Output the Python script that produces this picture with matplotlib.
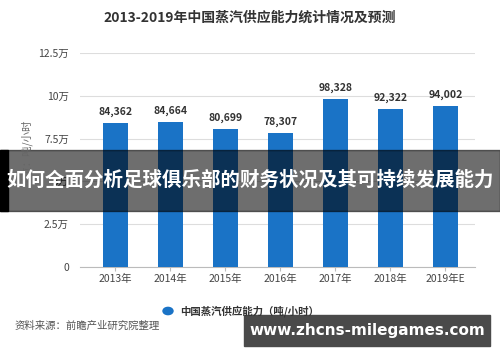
import matplotlib
matplotlib.use("Agg")
import matplotlib.pyplot as plt
import matplotlib.patches as mpatches

plt.rcParams['font.family'] = ['Noto Sans CJK SC', 'DejaVu Sans']

# dados
anos = ["2013年", "2014年", "2015年", "2016年", "2017年", "2018年", "2019年E"]
capacidade = [84362, 84664, 80699, 78307, 98328, 92322, 94002]
rotulos = ["84,362", "84,664", "80,699", "78,307", "98,328", "92,322", "94,002"]
yticks = [0, 25000, 50000, 75000, 100000, 125000]
ytick_labels = ["0", "2.5万", "5万", "7.5万", "10万", "12.5万"]

W, H = 500, 362
fig = plt.figure(figsize=(5, 3.62), dpi=100)
fig.patch.set_facecolor("white")

# eixo principal (pixels -> fração)
ax = fig.add_axes([80 / W, 1 - 267 / H, 395 / W, 214 / H])
x = list(range(len(anos)))
ax.bar(x, capacidade, width=0.45, color="#1a73c6", zorder=3)
for xi, v, s in zip(x, capacidade, rotulos):
    ax.text(xi, v + 3500, s, ha="center", va="bottom", fontsize=7.5,
            fontweight="bold", color="#333333", zorder=4)

ax.set_xlim(-0.645, 6.54)
ax.set_ylim(0, 125000)
ax.set_yticks(yticks)
ax.set_yticklabels(ytick_labels, fontsize=7.5, color="#444444")
ax.set_xticks(x)
ax.set_xticklabels(anos, fontsize=7.5, color="#444444")
ax.grid(axis="y", color="#dddddd", linewidth=0.8, zorder=0)
for lado in ["top", "right", "left"]:
    ax.spines[lado].set_visible(False)
ax.spines["bottom"].set_color("#bbbbbb")
ax.tick_params(axis="y", length=0, pad=8)
ax.tick_params(axis="x", length=3, color="#bbbbbb", pad=2)

# titulo e textos
fig.text(250 / W, 1 - 18 / H, "2013-2019年中国蒸汽供应能力统计情况及预测",
         ha="center", va="center", fontsize=10, fontweight="bold", color="#333333")
fig.text(27 / W, 1 - 153 / H, "单位：吨/小时", rotation=90, ha="center", va="center",
         fontsize=7.5, color="#666666")

# legenda
fig.patches.append(mpatches.Circle((168 / W, 1 - 311 / H), 5 / W, color="#1a73c6",
                                   transform=fig.transFigure, figure=fig))
fig.text(180 / W, 1 - 311 / H, "中国蒸汽供应能力（吨/小时）", ha="left", va="center",
         fontsize=7.5, fontweight="bold", color="#333333")
fig.text(15 / W, 1 - 326 / H, "资料来源：前瞻产业研究院整理", ha="left", va="center",
         fontsize=7.5, color="#555555")

# faixa escura com titulo do artigo
fig.patches.append(mpatches.Rectangle((0, 1 - 211 / H), 1, 61 / H, color="black",
                                      alpha=0.57, transform=fig.transFigure, figure=fig))
fig.patches.append(mpatches.Rectangle((0, 1 - 211 / H), 8 / W, 61 / H, color="black",
                                      transform=fig.transFigure, figure=fig))
fig.text(250 / W, 1 - 180 / H, "如何全面分析足球俱乐部的财务状况及其可持续发展能力",
         ha="center", va="center", fontsize=14, fontweight="bold", color="white")

# caixa do site
fig.patches.append(mpatches.Rectangle((244 / W, 1 - 346 / H), 246 / W, 31 / H,
                                      color="#4a4a4a", transform=fig.transFigure, figure=fig))
fig.text(367 / W, 1 - 330 / H, "www.zhcns-milegames.com", ha="center", va="center",
         fontsize=11, fontweight="bold", color="white", family=["DejaVu Sans"])

fig.savefig("out.png", dpi=100)
